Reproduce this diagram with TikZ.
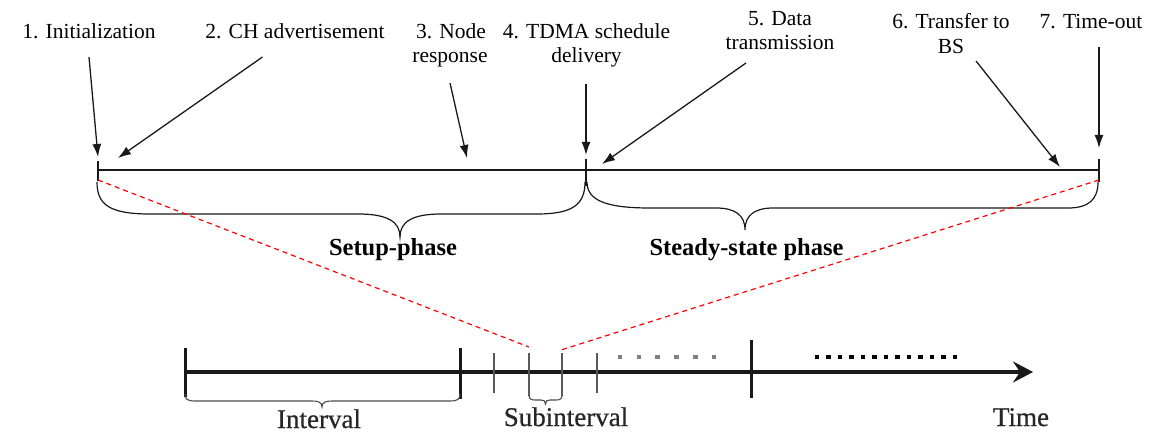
\documentclass[tikz,border=0pt]{standalone}
\usepackage{fontspec}
\setmainfont{Liberation Serif}
\usetikzlibrary{arrows.meta}
\begin{document}
\begin{tikzpicture}[x=1pt,y=-1pt,
  toplbl/.style={font=\fontsize{21.5}{24}\selectfont, inner sep=0pt, anchor=base},
  phaselbl/.style={font=\fontsize{24.5}{28}\selectfont\bfseries, inner sep=0pt, anchor=base},
  botlbl/.style={font=\fontsize{27}{30}\selectfont\addfontfeatures{FakeBold=0.6}, text=black!85, inner sep=0pt, anchor=base},
  arr/.style={line width=1.3pt, draw=black!90, -{Latex[length=13pt,width=9pt]}},
  tline/.style={line width=1.3pt, draw=black!90},
  bracepath/.style={line width=1.2pt, draw=black!90},
  reddash/.style={draw=red, line width=1.2pt, dash pattern=on 5pt off 4pt},
  bigtick/.style={line width=3pt, draw=black!90},
  smalltick/.style={line width=2.6pt, draw=black!65},
  smallbrace/.style={line width=1.1pt, draw=black!70},
  graydot/.style={fill=black!50, draw=none},
  blackdot/.style={fill=black, draw=none}
]
\useasboundingbox (0,0) rectangle (1169,443);

% ---------- top timeline ----------
\coordinate (T0) at (98,170);
\coordinate (T1) at (586,170);
\coordinate (T2) at (1099,170);
\draw[tline] (T0) -- (T2);
\coordinate (k0a) at (98,161);  \coordinate (k0b) at (98,181);
\coordinate (k1a) at (586,159); \coordinate (k1b) at (586,186);
\coordinate (k2a) at (1099,159); \coordinate (k2b) at (1099,182);
\draw[tline] (k0a) -- (k0b);
\draw[tline] (k1a) -- (k1b);
\draw[tline] (k2a) -- (k2b);

% ---------- labels ----------
\node[toplbl] (l1) at (89,39) {1. Initialization};
\node[toplbl] (l2) at (295,39) {2. CH advertisement};
\node[toplbl] (l3a) at (451,39) {3. Node};
\node[toplbl] (l3b) at (450,63) {response};
\node[toplbl] (l4a) at (586.5,39) {4. TDMA schedule};
\node[toplbl] (l4b) at (586.5,63) {delivery};
\node[toplbl] (l5a) at (780,26) {5. Data};
\node[toplbl] (l5b) at (780,50) {transmission};
\node[toplbl] (l6a) at (951,29) {6. Transfer to};
\node[toplbl] (l6b) at (951,54) {BS};
\node[toplbl] (l7) at (1091,29) {7. Time-out};

% ---------- arrows ----------
\coordinate (a1s) at (89,57);    \coordinate (a1e) at (98,157);
\coordinate (a2s) at (262.5,57); \coordinate (a2e) at (118,158);
\coordinate (a3s) at (450,83);   \coordinate (a3e) at (467,158);
\coordinate (a4s) at (586,84);   \coordinate (a4e) at (586,155);
\coordinate (a5s) at (746,63);   \coordinate (a5e) at (602,164);
\coordinate (a6s) at (976,61);   \coordinate (a6e) at (1060,167);
\coordinate (a7s) at (1099,47);  \coordinate (a7e) at (1099,148);
\draw[arr] (a1s) -- (a1e);
\draw[arr] (a2s) -- (a2e);
\draw[arr] (a3s) -- (a3e);
\draw[arr] (a4s) -- (a4e);
\draw[arr] (a5s) -- (a5e);
\draw[arr] (a6s) -- (a6e);
\draw[arr] (a7s) -- (a7e);

% ---------- braces ----------
\draw[bracepath] (97,182) .. controls (97,205) and (110,214) .. (150,214)
  -- (358,214) .. controls (388,214) and (400,222) .. (400,237)
  .. controls (400,222) and (412,214) .. (441,214)
  -- (537,214) .. controls (572,214) and (585,205) .. (585,182);
\draw[bracepath] (587,182) .. controls (587,200) and (605,208) .. (650,208)
  -- (716,208) .. controls (735,208) and (745,215) .. (745,230)
  .. controls (745,215) and (755,208) .. (773,208)
  -- (1068,208) .. controls (1088,208) and (1098,200) .. (1098,182);

\node[phaselbl] (setup) at (393,256) {Setup-phase};
\node[phaselbl] (steady) at (746.5,256) {Steady-state phase};

% ---------- red dashed zoom lines ----------
\coordinate (r1s) at (98,180);   \coordinate (r1e) at (529,347);
\coordinate (r2s) at (1099,180); \coordinate (r2e) at (561,350);
\draw[reddash] (r1s) -- (r1e);
\draw[reddash] (r2s) -- (r2e);

% ---------- bottom timeline ----------
\coordinate (B0) at (185,372);
\coordinate (B1) at (1033,372);
\draw[line width=3.5pt, draw=black!90, -{Stealth[length=20pt,width=21pt,inset=7pt]}] (B0) -- (B1);

\draw[bigtick] (185,348) -- (185,397);
\draw[bigtick] (460,348) -- (460,399);
\draw[bigtick] (751,340) -- (751,398);

\draw[smalltick] (494,353) -- (494,393);
\draw[smalltick] (529,353) -- (529,396);
\draw[smalltick] (562,353) -- (562,396);
\draw[smalltick] (597,353) -- (597,393);

% interval brace
\draw[smallbrace] (185,394) .. controls (185,399) and (187,401) .. (195,401)
  -- (312,401) .. controls (318,401) and (322,402) .. (322,407)
  .. controls (322,402) and (326,401) .. (332,401)
  -- (450,401) .. controls (458,401) and (460,399) .. (460,394);
% subinterval brace
\draw[smallbrace] (529,395) .. controls (529,399) and (531,400) .. (535,400)
  -- (541,400) .. controls (544,400) and (545.5,401) .. (545.5,404)
  .. controls (545.5,401) and (547,400) .. (550,400)
  -- (556,400) .. controls (560,400) and (562,399) .. (562,395);

% dots
\foreach \i in {0,...,5} {
  \fill[graydot] ({620+18.8*\i-2.3},354.7) rectangle ++(4.6,4.6);
}
\foreach \i in {0,...,12} {
  \fill[blackdot] ({817+11.5*\i-2.3},354.7) rectangle ++(4.6,4.6);
}

\node[botlbl] (intv) at (319,428) {Interval};
\node[botlbl] (subintv) at (566,426) {Subinterval};
\node[botlbl] (time) at (1021,426) {Time};
\end{tikzpicture}
\end{document}
